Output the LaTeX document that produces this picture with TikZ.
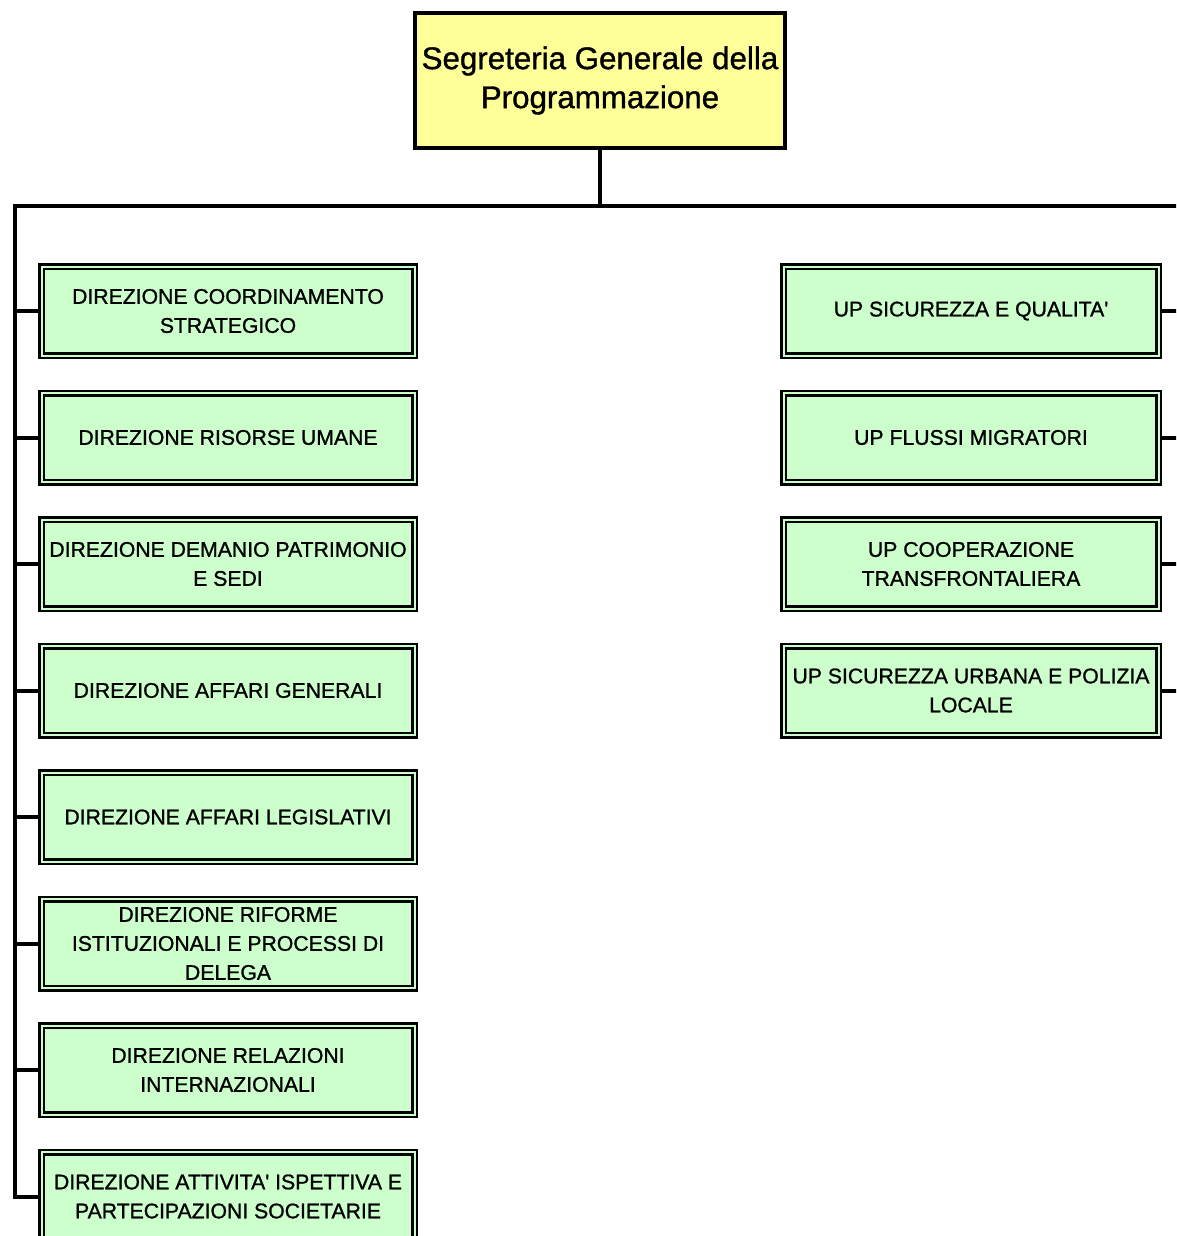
\documentclass[tikz,border=0pt]{standalone}
\usepackage{fontspec}
\setmainfont{Liberation Sans}
\newfontfamily\boxfont[FakeBold=1.1]{Liberation Sans}
\definecolor{headfill}{HTML}{FFFF99}
\definecolor{unitfill}{HTML}{CCFFCC}
\newcommand{\ap}{\textquotesingle}
\begin{document}
\begin{tikzpicture}[x=1pt,y=-1pt,
  head/.style={draw=black, line width=4pt, fill=headfill, rectangle,
    minimum width=370pt, minimum height=134pt, inner sep=0pt, align=center,
    font=\boxfont\fontsize{31.3}{39}\selectfont},
  unit/.style={draw=black, line width=2.5pt, double=unitfill, double distance=2pt,
    fill=unitfill, rectangle, minimum width=373pt, minimum height=89pt,
    inner sep=0pt, align=center, font=\boxfont\fontsize{21.2}{29}\selectfont},
  runit/.style={unit, minimum width=375pt},
  link/.style={draw=black, line width=4pt}]
\useasboundingbox (0,0) rectangle (1176,1236);
\clip (0,0) rectangle (1176,1236);
\fill[white] (0,0) rectangle (1176,1236);

% head office
\node[head] (top) at (600,80.5) {Segreteria Generale della\\Programmazione};

% directorates (left column)
\node[unit] (l1) at (228,311)    {DIREZIONE COORDINAMENTO\\STRATEGICO};
\node[unit] (l2) at (228,437.5)  {DIREZIONE RISORSE UMANE};
\node[unit] (l3) at (228,564)    {DIREZIONE DEMANIO PATRIMONIO\\E SEDI};
\node[unit] (l4) at (228,690.5)  {DIREZIONE AFFARI GENERALI};
\node[unit] (l5) at (228,817)    {DIREZIONE AFFARI LEGISLATIVI};
\node[unit] (l6) at (228,943.5)  {DIREZIONE RIFORME\\ISTITUZIONALI E PROCESSI DI\\DELEGA};
\node[unit] (l7) at (228,1070)   {DIREZIONE RELAZIONI\\INTERNAZIONALI};
\node[unit] (l8) at (228,1196.5) {DIREZIONE ATTIVITA\ap{} ISPETTIVA E\\PARTECIPAZIONI SOCIETARIE};

% project units (right column)
\node[runit] (r1) at (971,311)   {UP SICUREZZA E QUALITA\ap};
\node[runit] (r2) at (971,437.5) {UP FLUSSI MIGRATORI};
\node[runit] (r3) at (971,564)   {UP COOPERAZIONE\\TRANSFRONTALIERA};
\node[runit] (r4) at (971,690.5) {UP SICUREZZA URBANA E POLIZIA\\LOCALE};

% bus and trunks
\coordinate (busL) at (15,206);
\coordinate (busR) at (1190,206);
\draw[link] (top.south) -- (top.south |- busL);
\draw[link] (busR) -- (busL) |- (l8.west);
\draw[link] (busR) |- (r4.east);
\foreach \n in {l1,l2,l3,l4,l5,l6,l7}
  \draw[link] (\n.west -| busL) -- (\n.west);
\foreach \n in {r1,r2,r3}
  \draw[link] (\n.east) -- (\n.east -| busR);
\end{tikzpicture}
\end{document}
